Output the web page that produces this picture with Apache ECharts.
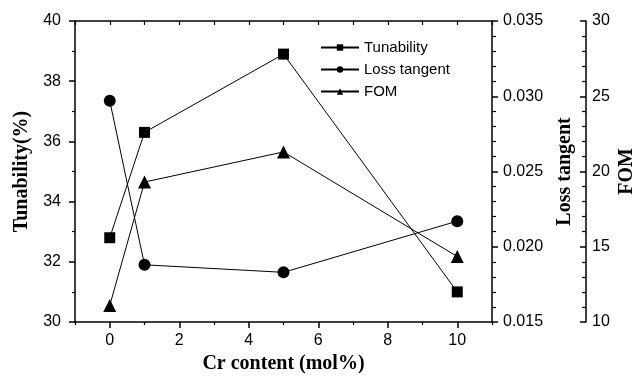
<!DOCTYPE html>
<html>
<head>
<meta charset="utf-8">
<script src="https://cdn.jsdelivr.net/npm/echarts@6/dist/echarts.min.js"></script>
<style>
  html, body { margin: 0; padding: 0; background: #fff; }
  #chart { width: 634px; height: 379px; }
</style>
</head>
<body>
<div id="chart"></div>
<script>
// Cr content (mol%)
var crContent = [0, 1, 5, 10];
// values
var tunability = [32.8, 36.3, 38.9, 31.0];
var lossTangent = [0.0297, 0.0188, 0.0183, 0.0217];
var fom = [11.1, 19.3, 21.3, 14.35];

var xMajor = [0, 2, 4, 6, 8, 10];
var xMinor = [-1, 1, 3, 5, 7, 9, 11];

function pairs(xs, ys) {
  return xs.map(function (x, i) { return [x, ys[i]]; });
}

var chart = echarts.init(document.getElementById('chart'));
var sans = 'Liberation Sans';
var serif = 'Liberation Serif';
var nameStyle = { fontFamily: serif, fontWeight: 'bold', fontSize: 20, color: '#000' };
var tickLabel = { fontFamily: sans, fontSize: 16, color: '#000' };
var black = { color: '#000', width: 1.5 };
var thin = { color: '#000', width: 1.2 };

var option = {
  animation: false,
  backgroundColor: '#fff',
  grid: { left: 75, right: 142, top: 21, bottom: 57, outerBoundsMode: 'none', containLabel: false },
  legend: {
    orient: 'vertical',
    left: 315,
    top: 35,
    itemWidth: 38,
    itemHeight: 8,
    itemGap: 7,
    textStyle: { fontFamily: sans, fontSize: 15, color: '#000' },
    data: ['Tunability', 'Loss tangent', 'FOM']
  },
  xAxis: [
    {
      type: 'value', min: -1, max: 11, position: 'bottom',
      name: 'Cr content (mol%)', nameLocation: 'middle', nameGap: 30,
      nameTextStyle: nameStyle,
      axisLine: { onZero: false, lineStyle: black },
      axisTick: { customValues: xMajor, length: 6, lineStyle: black },
      axisLabel: Object.assign({ customValues: xMajor, margin: 11 }, tickLabel),
      splitLine: { show: false }
    },
    {
      type: 'value', min: -1, max: 11, position: 'bottom',
      axisLine: { show: false, onZero: false },
      axisTick: { customValues: xMinor, length: 3, lineStyle: thin },
      axisLabel: { show: false },
      splitLine: { show: false }
    },
    {
      type: 'value', min: -1, max: 11, position: 'top',
      axisLine: { onZero: false, lineStyle: black },
      axisTick: { customValues: xMajor.concat(xMinor), inside: true, length: 4, lineStyle: thin },
      axisLabel: { show: false },
      splitLine: { show: false }
    }
  ],
  yAxis: [
    {
      type: 'value', min: 30, max: 40, interval: 2, position: 'left',
      name: 'Tunability(%)', nameLocation: 'middle', nameGap: 43, nameRotate: 90,
      nameTextStyle: nameStyle,
      axisLine: { show: true, onZero: false, lineStyle: black },
      axisTick: { show: true, length: 6, lineStyle: black },
      minorTick: { show: true, splitNumber: 2, length: 3, lineStyle: thin },
      axisLabel: Object.assign({ margin: 14 }, tickLabel),
      splitLine: { show: false }
    },
    {
      type: 'value', min: 0.015, max: 0.035, interval: 0.005, position: 'right',
      name: 'Loss tangent', nameLocation: 'middle', nameGap: 63, nameRotate: 90,
      nameTextStyle: nameStyle,
      axisLine: { show: true, onZero: false, lineStyle: black },
      axisTick: { show: true, length: 6, lineStyle: black },
      minorTick: { show: true, splitNumber: 5, length: 4, lineStyle: thin },
      axisLabel: Object.assign({ margin: 11, formatter: function (v) { return v.toFixed(3); } }, tickLabel),
      splitLine: { show: false }
    },
    {
      type: 'value', min: 10, max: 30, interval: 5, position: 'right', offset: 94,
      name: 'FOM', nameLocation: 'middle', nameGap: 31, nameRotate: 90, nameMoveOverlap: false,
      nameTextStyle: nameStyle,
      axisLine: { show: true, onZero: false, lineStyle: black },
      axisTick: { show: true, inside: true, length: 6, lineStyle: black },
      minorTick: { show: true, splitNumber: 5, length: 4, lineStyle: thin },
      axisLabel: Object.assign({ margin: 6 }, tickLabel),
      splitLine: { show: false }
    }
  ],
  series: [
    {
      name: 'Tunability', type: 'line', xAxisIndex: 0, yAxisIndex: 0,
      data: pairs(crContent, tunability),
      symbol: 'rect', symbolSize: 11,
      lineStyle: { color: '#000', width: 1 },
      itemStyle: { color: '#000' }
    },
    {
      name: 'Loss tangent', type: 'line', xAxisIndex: 0, yAxisIndex: 1,
      data: pairs(crContent, lossTangent),
      symbol: 'circle', symbolSize: 12,
      lineStyle: { color: '#000', width: 1 },
      itemStyle: { color: '#000' }
    },
    {
      name: 'FOM', type: 'line', xAxisIndex: 0, yAxisIndex: 2,
      data: pairs(crContent, fom),
      symbol: 'triangle', symbolSize: 13,
      lineStyle: { color: '#000', width: 1 },
      itemStyle: { color: '#000' }
    }
  ]
};

chart.setOption(option);
</script>
</body>
</html>
